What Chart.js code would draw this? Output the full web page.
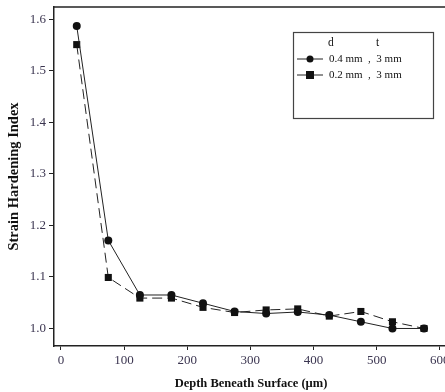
<!DOCTYPE html>
<html>
<head>
<meta charset="utf-8">
<script src="https://cdn.jsdelivr.net/npm/chart.js@4.4.0/dist/chart.umd.min.js"></script>
<style>
  html, body { margin: 0; padding: 0; background: #fff; overflow: hidden; }
  #wrap { position: relative; width: 453px; height: 392px; }
</style>
</head>
<body>
<div id="wrap"><canvas id="chart" width="453" height="392"></canvas></div>
<script>
let depths = [25, 75, 125, 175, 225, 275, 325, 375, 425, 475, 525, 575];
let hardening04 = [1.587, 1.171, 1.065, 1.065, 1.049, 1.033, 1.029, 1.032, 1.026, 1.013, 1.0, 1.0];
let hardening02 = [1.551, 1.099, 1.059, 1.059, 1.041, 1.031, 1.036, 1.038, 1.024, 1.033, 1.013, 1.0];
let xTicks = [0, 100, 200, 300, 400, 500, 600];
let yTicks = [1.0, 1.1, 1.2, 1.3, 1.4, 1.5, 1.6];
let legendLabels = ["0.4 mm  ,  3 mm", "0.2 mm  ,  3 mm"];

let tickColor = '#3b3550';
let serif = "'Liberation Serif', 'DejaVu Serif', serif";

let frameAndLegend = {
  id: 'frameAndLegend',
  afterDraw(chart) {
    let ctx = chart.ctx;
    let area = chart.chartArea;
    ctx.save();
    // top frame line
    ctx.strokeStyle = '#222';
    ctx.lineWidth = 1.5;
    ctx.beginPath();
    ctx.moveTo(area.left, area.top);
    ctx.lineTo(chart.width, area.top);
    ctx.stroke();

    // legend box
    ctx.lineWidth = 1.2;
    ctx.strokeStyle = '#444';
    ctx.strokeRect(293.5, 32.5, 140, 86);

    ctx.fillStyle = '#111';
    ctx.font = "11.5px " + serif;
    ctx.textBaseline = 'middle';
    ctx.fillText('d', 328, 43);
    ctx.fillText('t', 376, 43);

    let rows = [59, 75];
    rows.forEach((y, i) => {
      ctx.strokeStyle = '#222';
      ctx.lineWidth = 1;
      ctx.setLineDash([]);
      ctx.beginPath();
      ctx.moveTo(297, y);
      ctx.lineTo(323, y);
      ctx.stroke();
      ctx.fillStyle = '#111';
      if (i === 0) {
        ctx.beginPath();
        ctx.arc(310, y, 3.5, 0, Math.PI * 2);
        ctx.fill();
      } else {
        ctx.fillRect(306, y - 4, 8, 8);
      }
      ctx.font = "11px " + serif;
      ctx.fillText(legendLabels[i], 329, y);
    });
    ctx.restore();
  }
};

let chartContext = document.getElementById("chart").getContext("2d");
new Chart(chartContext, {
  type: 'line',
  data: {
    datasets: [{
      label: legendLabels[0],
      data: depths.map((d, i) => ({ x: d, y: hardening04[i] })),
      borderColor: '#222',
      backgroundColor: '#111',
      borderWidth: 1,
      pointStyle: 'circle',
      pointRadius: 4,
      pointBorderWidth: 0,
      tension: 0
    }, {
      label: legendLabels[1],
      data: depths.map((d, i) => ({ x: d, y: hardening02[i] })),
      borderColor: '#222',
      backgroundColor: '#111',
      borderWidth: 1,
      borderDash: [10, 5],
      pointStyle: 'rect',
      pointRadius: 5,
      pointBorderWidth: 0,
      tension: 0
    }]
  },
  options: {
    responsive: false,
    animation: false,
    devicePixelRatio: 1,
    layout: { padding: { top: 7, left: 0, right: 0, bottom: 0 } },
    plugins: { legend: { display: false }, tooltip: { enabled: false } },
    scales: {
      x: {
        type: 'linear',
        min: -11,
        max: 613,
        afterBuildTicks: scale => { scale.ticks = xTicks.map(v => ({ value: v })); },
        afterFit: scale => { scale.height = 46; scale.paddingRight = 0; scale.paddingLeft = 0; },
        grid: { drawOnChartArea: false, drawTicks: true, tickLength: 4, color: '#222' },
        border: { display: true, color: '#222', width: 1.5 },
        ticks: {
          color: tickColor,
          font: { family: serif, size: 13 },
          padding: 3,
          maxRotation: 0
        },
        title: {
          display: true,
          text: 'Depth Beneath Surface (µm)',
          color: '#111',
          font: { family: serif, size: 12.5, weight: 'bold' },
          padding: { top: 0, bottom: 1 }
        }
      },
      y: {
        type: 'linear',
        min: 0.966,
        max: 1.624,
        afterBuildTicks: scale => { scale.ticks = yTicks.map(v => ({ value: v })); },
        afterFit: scale => { scale.width = 54; scale.paddingTop = 0; scale.paddingBottom = 0; },
        grid: { drawOnChartArea: false, drawTicks: true, tickLength: 5, color: '#222' },
        border: { display: true, color: '#222', width: 1.5 },
        ticks: {
          color: tickColor,
          font: { family: serif, size: 13 },
          padding: 3,
          callback: v => v.toFixed(1)
        },
        title: {
          display: true,
          text: 'Strain Hardening Index',
          color: '#111',
          font: { family: serif, size: 14.5, weight: 'bold' },
          padding: { top: 6, bottom: 2 }
        }
      }
    }
  },
  plugins: [frameAndLegend]
});
</script>
</body>
</html>
